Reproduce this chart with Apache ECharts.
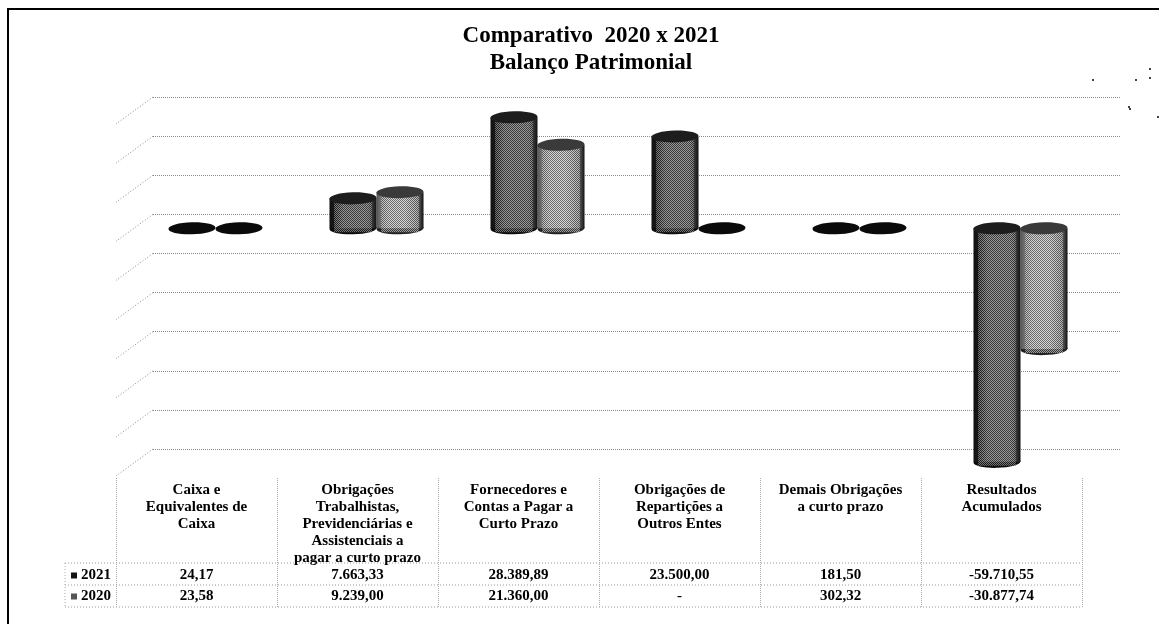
<!DOCTYPE html>
<html><head><meta charset="utf-8">
<style>html,body{margin:0;padding:0;background:#fff}#c{width:1159px;height:624px}</style>
<script src="https://cdn.jsdelivr.net/npm/echarts@6/dist/echarts.min.js"></script></head>
<body><div id="c"></div>
<script>
const categories = ['Caixa e\nEquivalentes de\nCaixa','Obrigações\nTrabalhistas,\nPrevidenciárias e\nAssistenciais a\npagar a curto prazo','Fornecedores e\nContas a Pagar a\nCurto Prazo','Obrigações de\nRepartições a\nOutros Entes','Demais Obrigações\na curto prazo','Resultados\nAcumulados'];
const values2021 = [24.17,7663.33,28389.89,23500,181.5,-59710.55];
const values2020 = [23.58,9239,21360,0,302.32,-30877.74];
const wallTicks = [30000,20000,10000,0,-10000,-20000,-30000,-40000,-50000,-60000];

const SERIF='"Liberation Serif","Times New Roman",serif';
function fmt(v){
  if(v===0) return '-';
  const s=Math.abs(v).toFixed(2).split('.');
  return (v<0?'-':'')+s[0].replace(/\B(?=(\d{3})+$)/g,'.')+','+s[1];
}
function dither(dark,light){
  const c=document.createElement('canvas');c.width=c.height=6;
  const x=c.getContext('2d');x.fillStyle=light;x.fillRect(0,0,6,6);x.fillStyle=dark;
  for(let i=0;i<6;i++)for(let j=0;j<6;j++){ if((i+j)%2===0||(j===5&&i%2===1)) x.fillRect(i,j,1,1);}
  return c;
}
function cylinder(seriesOffset,stops,topFill,botFill,dark,light){
  const pat=dither(dark,light);
  return function(params,api){
    const i=api.value(0),v=api.value(1);
    const base=api.coord([i,0]),end=api.coord([i,v]);
    const rx=api.size([1,0])[0]*0.146,ry=6;
    const cx=base[0]+seriesOffset*rx,x=cx-rx;
    const top=Math.min(base[1],end[1]),bot=Math.max(base[1],end[1]);
    const ell=(cy,f)=>({type:'ellipse',shape:{cx:cx,cy:cy,rx:rx,ry:ry},rotation:0.025,originX:cx,originY:cy,style:{fill:f}});
    const flat=Math.abs(base[1]-end[1])<2;
    if(flat) return {type:'group',children:[ell(base[1],'#0a0a0a')]};
    const grad=new echarts.graphic.LinearGradient(0,0,1,0,stops);
    return {type:'group',children:[
      ell(bot,botFill),
      {type:'rect',shape:{x:x,y:top,width:rx*2,height:bot-top},style:{fill:grad}},
      {type:'rect',shape:{x:x+rx*.2,y:top+4,width:rx*1.6,height:bot-top},style:{fill:{image:pat,repeat:'repeat'},opacity:.6}},
      ell(top,topFill)
    ]};
  };
}
const chart=echarts.init(document.getElementById('c'),null,{renderer:'canvas'});
const rowAxis=(vals,offset)=>({type:'category',gridIndex:2,position:'bottom',offset:offset,data:vals.map(fmt),
  axisLine:{show:false},axisTick:{show:false},
  axisLabel:{interval:0,margin:0,color:'#000',fontFamily:SERIF,fontWeight:'bold',fontSize:15,lineHeight:15}});
const specks=[[1092,79],[1135,79],[1149,68],[1149,77],[1129,108],[1157,116],[1128,106]];
chart.setOption({
  animation:false,
  backgroundColor:'#fff',
  title:{text:'Comparativo  2020 x 2021\nBalanço Patrimonial',left:591,top:23,textAlign:'center',padding:0,
    textStyle:{fontFamily:SERIF,fontWeight:'bold',fontSize:23,lineHeight:27,color:'#000'}},
  legend:{orient:'vertical',left:71,top:568,padding:0,itemWidth:6,itemHeight:6,itemGap:6,icon:'rect',
    data:['2021','2020'],selectedMode:false,textStyle:{fontFamily:SERIF,fontWeight:'bold',fontSize:15,lineHeight:15,color:'#000',padding:[0,0,0,-1]}},
  grid:[
    {left:153,top:97,width:967,height:352},
    {left:135,top:111,width:966,height:352},
    {left:116,top:468,width:966,height:10}
  ],
  xAxis:[
    {type:'category',gridIndex:0,data:categories,show:false},
    {type:'category',gridIndex:1,data:categories,show:false},
    {type:'category',gridIndex:2,position:'bottom',data:categories,
      axisLine:{show:false},
      axisTick:{show:true,length:129,lineStyle:{color:'#aaa',type:'dotted'}},
      axisLabel:{interval:0,margin:4,color:'#000',fontFamily:SERIF,fontWeight:'bold',fontSize:15,lineHeight:17}},
    rowAxis(values2021,89.5),
    rowAxis(values2020,110.5)
  ],
  yAxis:[
    {type:'value',gridIndex:0,min:-60000,max:30000,interval:10000,axisLine:{show:false},axisTick:{show:false},axisLabel:{show:false},
      splitLine:{show:true,lineStyle:{color:'#8a8a8a',type:'dotted',width:1}}},
    {type:'value',gridIndex:1,min:-60000,max:30000,interval:10000,show:false,splitLine:{show:false}},
    {type:'value',gridIndex:2,show:false,splitLine:{show:false}}
  ],
  series:[
    {type:'custom',name:'walls',xAxisIndex:0,yAxisIndex:0,silent:true,clip:false,
      data:wallTicks.map(v=>[0,v]),
      renderItem:function(p,api){
        const y=api.coord([0,api.value(1)])[1],x=p.coordSys.x;
        return {type:'line',shape:{x1:x,y1:y,x2:x-37,y2:y+27},style:{stroke:'#8a8a8a',lineDash:[1,2],lineWidth:1}};
      }},
    {type:'custom',name:'2020',xAxisIndex:1,yAxisIndex:1,clip:false,itemStyle:{color:'#555'},
      data:values2020.map((v,i)=>[i,v]),
      renderItem:cylinder(1,[{offset:0,color:'#555'},{offset:.25,color:'#a8a8a8'},{offset:.6,color:'#b4b4b4'},{offset:.88,color:'#666'},{offset:1,color:'#111'}],'#3a3a3a','#222','#444','#eee')},
    {type:'custom',name:'2021',xAxisIndex:1,yAxisIndex:1,clip:false,itemStyle:{color:'#111'},
      data:values2021.map((v,i)=>[i,v]),
      renderItem:cylinder(-1,[{offset:0,color:'#111'},{offset:.14,color:'#1a1a1a'},{offset:.3,color:'#5e5e5e'},{offset:.8,color:'#666'},{offset:1,color:'#111'}],'#1d1d1d','#0c0c0c','#222','#bbb')}
  ],
  graphic:[
    {type:'rect',silent:true,shape:{x:8,y:9,width:1160,height:630},style:{fill:'none',stroke:'#000',lineWidth:2}},
    ...[[65,563,1081],[65,585,1081],[65,607,1081]].map(r=>({type:'line',silent:true,shape:{x1:r[0],y1:r[1],x2:r[2],y2:r[1]},style:{stroke:'#999',lineDash:[1,2]}})),
    {type:'line',silent:true,shape:{x1:65,y1:563,x2:65,y2:607},style:{stroke:'#aaa',lineDash:[1,2]}},
    ...specks.map(p=>({type:'rect',silent:true,shape:{x:p[0],y:p[1],width:2,height:2},style:{fill:'#444'}}))
  ]
});
</script></body></html>
